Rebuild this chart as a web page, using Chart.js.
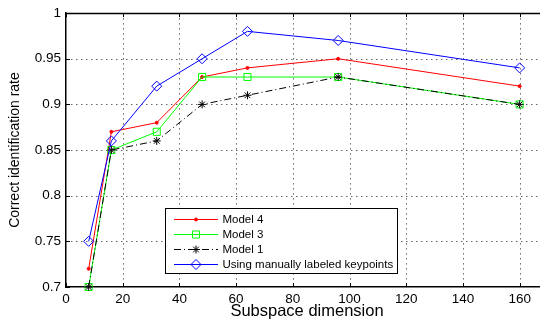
<!DOCTYPE html>
<html>
<head>
<meta charset="utf-8">
<script src="https://cdn.jsdelivr.net/npm/chart.js@4.4.1/dist/chart.umd.min.js"></script>
<style>
html,body{margin:0;padding:0;background:#fff;overflow:hidden;width:540px;height:324px;}
#wrap{position:absolute;left:0;top:0;width:560px;height:324px;}
</style>
</head>
<body>
<div id="wrap"><canvas id="c" width="560" height="324"></canvas></div>
<script>
// ---- data ----
const categories = [8, 16, 32, 48, 64, 96, 160];
const model4 = [0.72, 0.87, 0.88, 0.93, 0.94, 0.95, 0.92];
const model3 = [0.70, 0.85, 0.87, 0.93, 0.93, 0.93, 0.90];
const model1 = [0.70, 0.85, 0.86, 0.90, 0.91, 0.93, 0.90];
const manual = [0.75, 0.86, 0.92, 0.95, 0.98, 0.97, 0.94];
const seriesNames = ['Model 4', 'Model 3', 'Model 1', 'Using manually labeled keypoints'];
const seriesColors = ['#ff0000', '#00ff00', '#000000', '#0000ff'];
const xTickLabels = ['0', '20', '40', '60', '80', '100', '120', '140', '160'];
const yTickLabels = ['0.7', '0.75', '0.8', '0.85', '0.9', '0.95', '1'];
const xTitle = 'Subspace dimension';
const yTitle = 'Correct identification rate';

const FONT = '"Liberation Sans", Arial, Helvetica, sans-serif';

function pts(vals) { return categories.map((x, i) => ({x: x, y: vals[i]})); }

const datasets = [
  {label: seriesNames[0], data: pts(model4), borderColor: seriesColors[0], backgroundColor: seriesColors[0],
   pointStyle: 'circle', pointRadius: 1.5, pointBorderWidth: 1, borderWidth: 1, order: 4},
  {label: seriesNames[1], data: pts(model3), borderColor: seriesColors[1], backgroundColor: 'rgba(0,0,0,0)',
   pointStyle: 'rect', pointRadius: 5, pointBorderWidth: 1, borderWidth: 1, order: 3},
  {label: seriesNames[2], data: pts(model1), borderColor: seriesColors[2], backgroundColor: seriesColors[2],
   pointStyle: 'star', pointRadius: 4, pointBorderWidth: 1, borderWidth: 1, borderDash: [7, 3, 1, 3], order: 2},
  {label: seriesNames[3], data: pts(manual), borderColor: seriesColors[3], backgroundColor: 'rgba(0,0,0,0)',
   pointStyle: 'rectRot', pointRadius: 5, pointBorderWidth: 1, borderWidth: 1, order: 1}
];
datasets.forEach(d => { d.fill = false; d.tension = 0; d.clip = false; d.pointHoverRadius = d.pointRadius; });

const framePlugin = {
  id: 'frame',
  beforeDatasetsDraw(chart) {
    const {ctx, chartArea: a, scales: {x, y}} = chart;
    ctx.save();
    // dotted grid
    ctx.strokeStyle = 'rgba(0,0,0,0.6)';
    ctx.lineWidth = 1;
    ctx.setLineDash([1.5, 3.5]);
    ctx.beginPath();
    x.ticks.forEach(t => {
      if (t.value <= x.min) return;
      const px = Math.round(x.getPixelForValue(t.value)) + 0.5;
      ctx.moveTo(px, a.top); ctx.lineTo(px, a.bottom);
    });
    y.ticks.forEach(t => {
      if (t.value <= y.min + 1e-9 || t.value >= y.max - 1e-9) return;
      const py = Math.round(y.getPixelForValue(t.value)) + 0.5;
      ctx.moveTo(a.left, py); ctx.lineTo(a.right, py);
    });
    ctx.stroke();
    ctx.setLineDash([]);
    ctx.strokeStyle = '#000';
    // top border
    ctx.lineWidth = 1.5;
    ctx.beginPath();
    ctx.moveTo(a.left, Math.round(a.top) + 0.5);
    ctx.lineTo(a.right, Math.round(a.top) + 0.5);
    ctx.stroke();
    ctx.lineWidth = 1;
    const tl = 4;
    ctx.beginPath();
    x.ticks.forEach(t => {
      const px = Math.round(x.getPixelForValue(t.value)) + 0.5;
      ctx.moveTo(px, a.bottom); ctx.lineTo(px, a.bottom - tl);
      ctx.moveTo(px, a.top); ctx.lineTo(px, a.top + tl);
    });
    y.ticks.forEach(t => {
      const py = Math.round(y.getPixelForValue(t.value)) + 0.5;
      ctx.moveTo(a.left, py); ctx.lineTo(a.left + tl, py);
    });
    ctx.stroke();
    ctx.restore();
  },
  afterDraw(chart) {
    const {ctx} = chart;
    const left = 165, top = 208, rowH = 15, firstY = 218.5;
    ctx.save();
    ctx.font = '11.5px ' + FONT;
    let maxW = 0;
    seriesNames.forEach(n => { maxW = Math.max(maxW, ctx.measureText(n).width); });
    const textX = 222.5;
    const right = Math.round(textX + maxW + 4);
    const bottom = 273;
    ctx.fillStyle = '#fff';
    ctx.fillRect(left, top, right - left, bottom - top);
    ctx.strokeStyle = '#000';
    ctx.lineWidth = 1;
    ctx.strokeRect(left + 0.5, top + 0.5, right - left, bottom - top);
    datasets.forEach((d, i) => {
      const yy = Math.round(firstY + i * rowH) + 0.5;
      ctx.save();
      ctx.strokeStyle = seriesColors[i];
      ctx.lineWidth = 1.2;
      ctx.setLineDash(d.borderDash || []);
      ctx.beginPath();
      ctx.moveTo(174, yy);
      ctx.lineTo(218, yy);
      ctx.stroke();
      ctx.restore();
      ctx.save();
      ctx.setLineDash([]);
      ctx.strokeStyle = seriesColors[i];
      ctx.fillStyle = d.backgroundColor;
      ctx.lineWidth = d.pointBorderWidth;
      Chart.helpers.drawPoint(ctx, {
        pointStyle: d.pointStyle, radius: d.pointRadius, borderWidth: d.pointBorderWidth, rotation: 0
      }, 196, yy);
      ctx.restore();
      ctx.fillStyle = '#000';
      ctx.textBaseline = 'middle';
      ctx.textAlign = 'left';
      ctx.font = '11.5px ' + FONT;
      ctx.fillText(seriesNames[i], textX, yy);
    });
    ctx.restore();
  }
};

const chart = new Chart(document.getElementById('c'), {
  type: 'line',
  data: {datasets: datasets},
  options: {
    responsive: false,
    animation: false,
    devicePixelRatio: 1,
    layout: {padding: {left: 0, right: 12, top: 6, bottom: 0}},
    plugins: {legend: {display: false}, tooltip: {enabled: false}},
    scales: {
      x: {
        type: 'linear', min: 0, max: 170,
        afterFit(s) { s.height = 37; },
        ticks: {
          stepSize: 20, includeBounds: false, padding: 4, maxRotation: 0, autoSkip: false,
          color: '#000', font: {family: FONT, size: 13.5},
          callback: (v) => { const i = xTickLabels.indexOf(String(Math.round(v))); return i >= 0 ? xTickLabels[i] : ''; }
        },
        grid: {display: false, drawTicks: false},
        border: {display: true, color: '#000', width: 1.5},
        title: {display: true, text: xTitle, color: '#000', font: {family: FONT, size: 16.5}, padding: {top: 0, bottom: 3}}
      },
      y: {
        type: 'linear', min: 0.7, max: 1,
        afterFit(s) { s.width = 66; },
        ticks: {
          stepSize: 0.05, padding: 5, color: '#000', font: {family: FONT, size: 13.5},
          callback: (v) => { const s = String(+v.toFixed(2)); return yTickLabels.indexOf(s) >= 0 ? s : ''; }
        },
        grid: {display: false, drawTicks: false},
        border: {display: true, color: '#000', width: 1.5},
        title: {display: true, text: yTitle, color: '#000', font: {family: FONT, size: 14}, padding: {top: 7, bottom: 0}}
      }
    }
  },
  plugins: [framePlugin]
});
</script>
</body>
</html>
